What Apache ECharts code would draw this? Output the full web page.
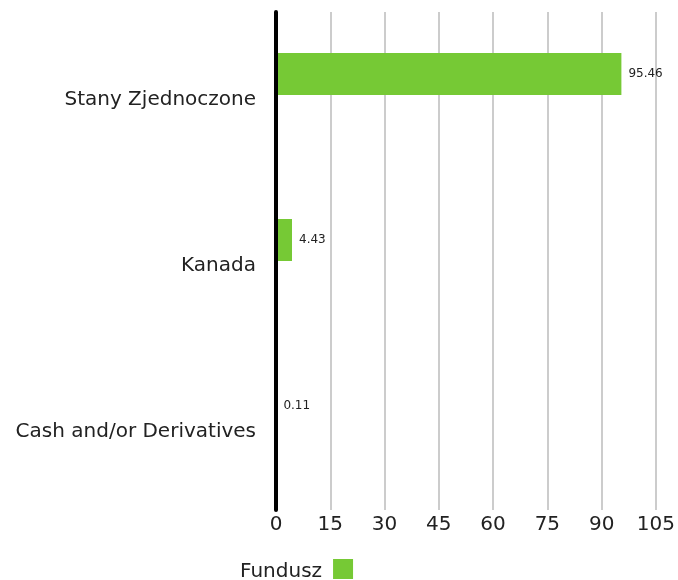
<!DOCTYPE html>
<html><head><meta charset="utf-8">
<script src="https://cdn.jsdelivr.net/npm/echarts@6/dist/echarts.min.js"></script>
<style>html,body{margin:0;padding:0;background:#fff}#c{width:678px;height:580px}</style>
</head><body><div id="c"></div>
<script>
const categories = ['Stany Zjednoczone', 'Kanada', 'Cash and/or Derivatives'];
const seriesName = 'Fundusz';
const values = [95.46, 4.43, 0.11];
const emptyValues = [null, null, null];
const FONT = 'DejaVu Sans';
const chart = echarts.init(document.getElementById('c'));
chart.setOption({
  animation: false,
  textStyle: { fontFamily: FONT },
  grid: { left: 276, right: 20, top: 12, bottom: 70, containLabel: false },
  legend: {
    data: [seriesName], left: 240, top: 559, align: 'right', padding: 0,
    itemWidth: 20, itemHeight: 20, itemGap: 10, icon: 'rect',
    formatter: '{a|{name}}',
    textStyle: {
      fontSize: 20, color: '#222', fontFamily: FONT,
      rich: { a: { fontSize: 20, color: '#222', fontFamily: FONT, padding: [6, 6, 0, 0] } }
    }
  },
  xAxis: {
    type: 'value', min: 0, max: 105, interval: 15,
    axisLine: { show: false }, axisTick: { show: false },
    splitLine: { show: true, lineStyle: { color: '#cccccc', width: 2 } },
    axisLabel: { fontSize: 20, color: '#222', margin: 5, fontFamily: FONT }
  },
  yAxis: {
    type: 'category', data: categories, inverse: true, z: 5,
    axisLine: { show: true, lineStyle: { color: '#000', width: 4 } },
    axisTick: { show: false },
    axisLabel: {
      fontSize: 20, color: '#222', margin: 20, fontFamily: FONT,
      formatter: function (v) { return '{a|' + v + '}'; },
      rich: { a: { fontSize: 20, color: '#222', fontFamily: FONT, padding: [9, 0, 0, 0] } }
    }
  },
  series: [{
    name: seriesName, type: 'bar', data: values, barWidth: 42, barGap: 0,
    itemStyle: { color: '#76c935' },
    label: { show: true, position: 'right', distance: 7, fontSize: 12, color: '#222', fontFamily: FONT }
  }, {
    name: 'empty', type: 'bar', data: emptyValues, barWidth: 42, barGap: 0
  }]
});
</script></body></html>
